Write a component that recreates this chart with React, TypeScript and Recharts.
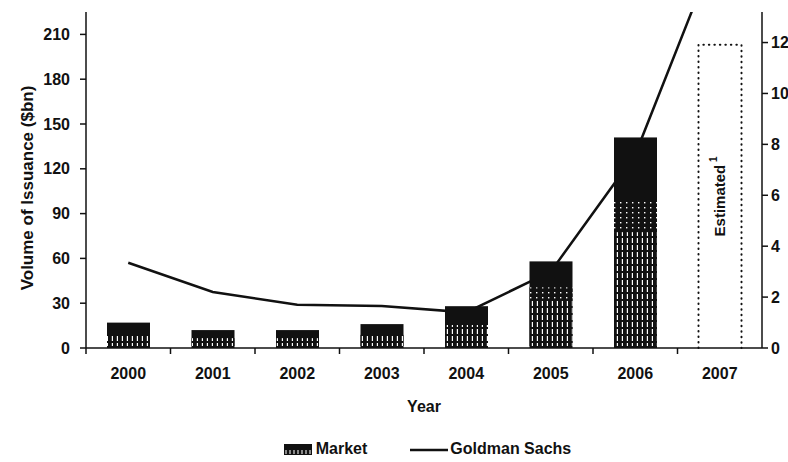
import React from 'react';
import {
  ComposedChart, Bar, Line, XAxis, YAxis, Legend, LabelList
} from 'recharts';

const years = ['2000', '2001', '2002', '2003', '2004', '2005', '2006', '2007'];
const marketVolume = [17, 12, 12, 16, 28, 58, 141, null];
const estimatedVolume = [null, null, null, null, null, null, null, 203];
const goldmanSachs = [3.35, 2.2, 1.7, 1.65, 1.4, 3.0, 7.6, 16];

const leftTicks = [0, 30, 60, 90, 120, 150, 180, 210];
const rightTicks = [0, 2, 4, 6, 8, 10, 12];

const data = years.map((year, i) => ({
  year,
  market: marketVolume[i],
  estimated: estimatedVolume[i],
  gs: goldmanSachs[i],
}));

const FONT = '"Liberation Sans", Arial, sans-serif';
const INK = '#111';
const W = 788;
const H = 462;
const MARGIN = { top: 12, right: 0, bottom: 48, left: 0 };

function MarketBar(props: any) {
  const { x, y, width, height } = props;
  if (!height || height <= 0) return null;
  const stipH = height * 0.55;
  const dotH = height > 80 ? height * 0.15 : 0;
  return (
    <g>
      <rect x={x} y={y} width={width} height={height} fill={INK} />
      {dotH > 0 && (
        <rect x={x} y={y + height - stipH - dotH} width={width} height={dotH} fill="url(#dots)" />
      )}
      <rect x={x} y={y + height - stipH} width={width} height={stipH - 2} fill="url(#stip)" />
    </g>
  );
}

function EstimatedBar(props: any) {
  const { x, y, width, height } = props;
  if (!height || height <= 0) return null;
  return (
    <path
      d={`M${x},${y + height} L${x},${y} L${x + width},${y} L${x + width},${y + height}`}
      fill="#fff"
      stroke={INK}
      strokeWidth={2}
      strokeDasharray="0.5 5"
      strokeLinecap="round"
    />
  );
}

function EstimatedLabel(props: any) {
  const { x, y, width, height, value } = props;
  if (value == null) return null;
  const cx = x + width / 2;
  const cy = y + height / 2;
  return (
    <text
      x={cx}
      y={cy}
      transform={`rotate(-90 ${cx} ${cy})`}
      textAnchor="middle"
      dominantBaseline="central"
      fontFamily={FONT}
      fontWeight="bold"
      fontSize={15}
      fill={INK}
    >
      Estimated<tspan dy={-7} fontSize={10}> 1</tspan>
    </text>
  );
}

function YearTick(props: any) {
  const { x, y, payload } = props;
  const half = payload.offset || 0;
  return (
    <g>
      <line x1={x - half} x2={x - half} y1={y - 20} y2={y - 14} stroke={INK} strokeWidth={1.5} />
      <text x={x} y={y} dy="0.71em" textAnchor="middle" fontFamily={FONT} fontWeight="bold" fontSize={16} fill={INK}>
        {payload.value}
      </text>
    </g>
  );
}

function VolumeLabel(props: any) {
  const vb = props.viewBox || {};
  const cx = vb.x + 27;
  const cy = vb.y + vb.height / 2 + 8;
  return (
    <text
      x={cx}
      y={cy}
      transform={`rotate(-90 ${cx} ${cy})`}
      textAnchor="middle"
      dominantBaseline="central"
      fontFamily={FONT}
      fontWeight="bold"
      fontSize={17}
      fill={INK}
    >
      Volume of Issuance ($bn)
    </text>
  );
}

function LegendContent() {
  return (
    <div style={{ display: 'flex', justifyContent: 'center', alignItems: 'center', fontFamily: FONT, fontWeight: 'bold', fontSize: 16, color: INK, paddingLeft: 67 }}>
      <svg width={28} height={11} style={{ marginRight: 4 }}>
        <defs>
          <pattern id="legStip" width="4" height="6" patternUnits="userSpaceOnUse">
            <rect width="4" height="6" fill={INK} />
            <rect x="1.5" y="0" width="1" height="4" fill="#fff" />
          </pattern>
        </defs>
        <rect x={0} y={0} width={28} height={11} fill={INK} />
        <rect x={1} y={4} width={26} height={6} fill="url(#legStip)" />
      </svg>
      <span style={{ marginRight: 43 }}>Market</span>
      <svg width={38} height={10} style={{ marginRight: 2 }}>
        <line x1={0} x2={38} y1={6} y2={6} stroke={INK} strokeWidth={2.5} />
      </svg>
      <span>Goldman Sachs</span>
    </div>
  );
}

// same axis geometry for both layers, so the line sits exactly under the bars
function axes(visible: boolean) {
  return [
    <XAxis
      key="x"
      dataKey="year"
      height={66}
      tickLine={false}
      tickSize={6}
      tickMargin={14}
      axisLine={visible ? { stroke: INK, strokeWidth: 1.5 } : false}
      tick={visible ? <YearTick /> : false}
      interval={0}
      label={visible ? { value: 'Year', position: 'insideBottom', offset: 2, fontFamily: FONT, fontWeight: 'bold', fontSize: 16, fill: INK } : undefined}
    />,
    <YAxis
      key="l"
      yAxisId="left"
      width={86}
      domain={[0, 225]}
      ticks={leftTicks}
      interval={0}
      tickSize={6}
      tickMargin={10}
      axisLine={visible ? { stroke: INK, strokeWidth: 1.5 } : false}
      tickLine={visible ? { stroke: INK, strokeWidth: 1.5 } : false}
      tick={visible ? { fontFamily: FONT, fontWeight: 'bold', fontSize: 16, fill: INK } : false}
      label={visible ? <VolumeLabel /> : undefined}
    />,
    <YAxis
      key="r"
      yAxisId="right"
      orientation="right"
      width={26}
      domain={[0, 13.2]}
      allowDataOverflow
      ticks={rightTicks}
      interval={0}
      tickSize={6}
      tickMargin={3}
      axisLine={visible ? { stroke: INK, strokeWidth: 1.5 } : false}
      tickLine={visible ? { stroke: INK, strokeWidth: 1.5 } : false}
      tick={visible ? { fontFamily: FONT, fontWeight: 'bold', fontSize: 16, fill: INK, textAnchor: 'start' } : false}
    />,
  ];
}

export default function App() {
  return (
    <div style={{ position: 'absolute', left: 0, top: 0, width: W, height: H, background: '#fff' }}>
      {/* back layer: Goldman Sachs line (with invisible bars so the band axis matches) */}
      <div style={{ position: 'absolute', left: 0, top: 0 }}>
        <ComposedChart width={W} height={H} data={data} margin={MARGIN} barCategoryGap={0}>
          {axes(false)}
          <Bar yAxisId="left" dataKey="market" stackId="v" barSize={43} fill="transparent" isAnimationActive={false} />
          <Bar yAxisId="left" dataKey="estimated" stackId="v" barSize={43} fill="transparent" isAnimationActive={false} />
          <Line
            yAxisId="right"
            dataKey="gs"
            type="linear"
            stroke={INK}
            strokeWidth={2.5}
            dot={false}
            activeDot={false}
            isAnimationActive={false}
          />
        </ComposedChart>
      </div>
      {/* front layer: bars, axes, legend */}
      <div style={{ position: 'absolute', left: 0, top: 0 }}>
        <ComposedChart width={W} height={H} data={data} margin={MARGIN} barCategoryGap={0}>
          <defs>
            <pattern id="stip" width="5" height="7" patternUnits="userSpaceOnUse">
              <rect width="5" height="7" fill={INK} />
              <rect x="1.8" y="0" width="1.2" height="5" fill="#fff" />
            </pattern>
            <pattern id="dots" width="6" height="5" patternUnits="userSpaceOnUse">
              <rect width="6" height="5" fill={INK} />
              <rect x="2" y="2" width="1.4" height="1.4" fill="#fff" />
            </pattern>
          </defs>
          {axes(true)}
          <Bar yAxisId="left" dataKey="market" stackId="v" barSize={43} shape={<MarketBar />} isAnimationActive={false} />
          <Bar yAxisId="left" dataKey="estimated" stackId="v" barSize={43} shape={<EstimatedBar />} isAnimationActive={false}>
            <LabelList dataKey="estimated" content={<EstimatedLabel />} />
          </Bar>
          <Legend
            verticalAlign="middle"
            align="center"
            content={<LegendContent />}
            wrapperStyle={{ top: 440, left: 0, width: W }}
          />
        </ComposedChart>
      </div>
    </div>
  );
}
